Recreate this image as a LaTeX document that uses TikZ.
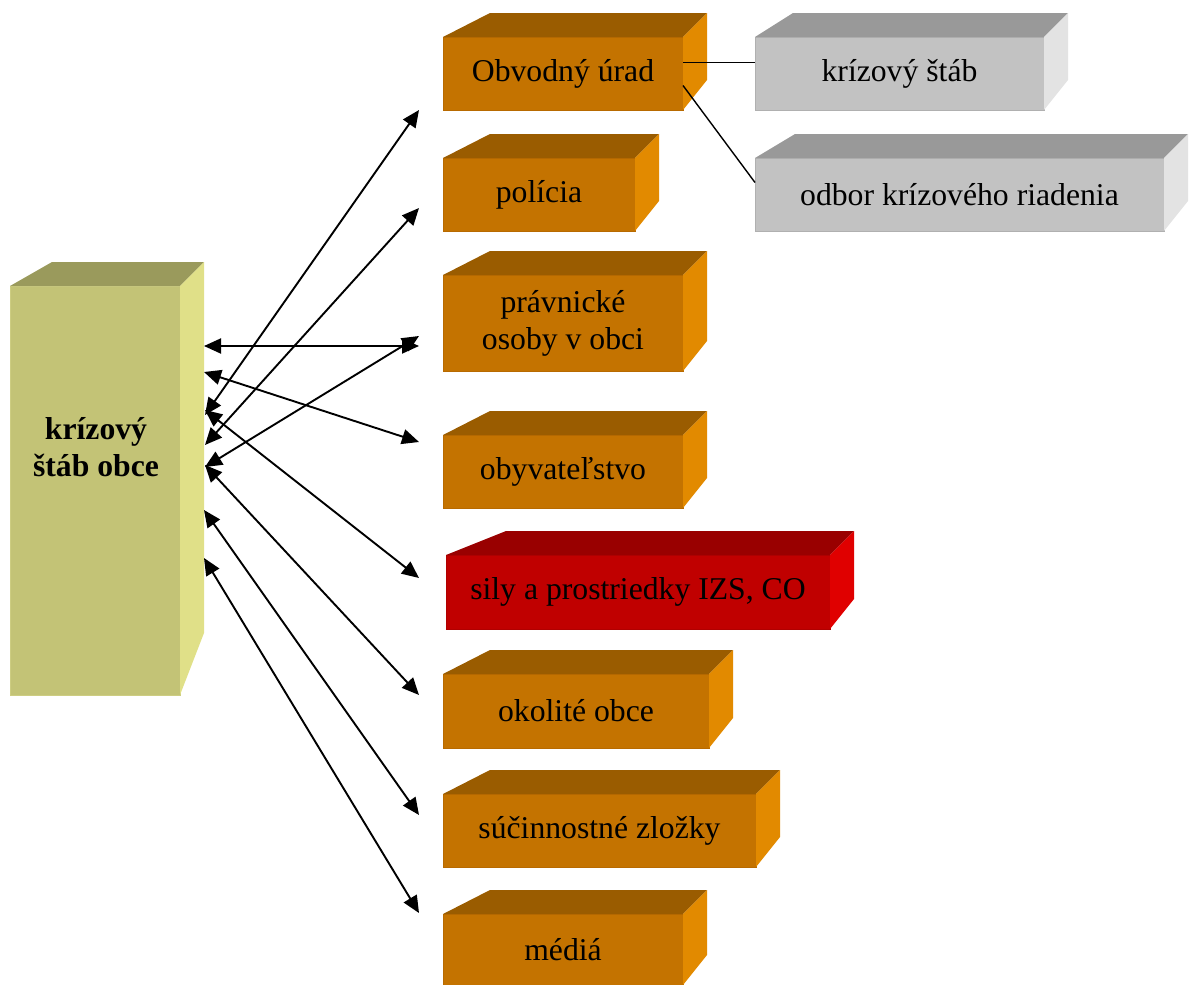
\documentclass[tikz,border=0pt]{standalone}
\usepackage{fontspec}
\setmainfont{Liberation Serif}
\usetikzlibrary{calc, arrows.meta}
\usepackage{xcolor}
\definecolor{orfront}{RGB}{196,115,0}
\definecolor{ortop}{RGB}{154,92,0}
\definecolor{orside}{RGB}{226,138,0}
\definecolor{oredge}{RGB}{184,106,0}
\definecolor{redfront}{RGB}{192,0,0}
\definecolor{redtop}{RGB}{153,0,0}
\definecolor{redside}{RGB}{224,0,0}
\definecolor{rededge}{RGB}{176,0,0}
\definecolor{gryfront}{RGB}{194,194,194}
\definecolor{grytop}{RGB}{153,153,153}
\definecolor{gryside}{RGB}{227,227,227}
\definecolor{gryedge}{RGB}{176,176,176}
\definecolor{khfront}{RGB}{195,195,118}
\definecolor{khtop}{RGB}{154,154,92}
\definecolor{khside}{RGB}{224,224,136}
\definecolor{khedge}{RGB}{205,205,130}
\tikzset{
  slabface/.style={rectangle, inner sep=0pt, outer sep=0pt, line width=1pt,
    font=\fontsize{31.7}{37}\selectfont, align=center},
  link/.style={>={Triangle[length=17pt,width=15pt]}, <->, line width=1.9pt},
  tie/.style={line width=1.4pt}
}
% [back left]{name}{at}{width}{height}{colour}{text}
\newcommand{\slab}[7][47]{%
  \node[slabface, fill=#6front, draw=#6edge, minimum width=#4, minimum height=#5] (#2) at (#3) {#7};
  \fill[#6top] (#2.north west) -- ++(#1,-24) -- ($(#2.north east)+(24,-24)$) -- (#2.north east) -- cycle;
  \fill[#6side] (#2.north east) -- ++(24,-24) -- ($(#2.south east)+(24,-30)$) -- (#2.south east) -- cycle;
}
\begin{document}
\begin{tikzpicture}[x=1pt, y=-1pt]
		\useasboundingbox (0,0) rectangle (1192,985);
		% left block
		\node[slabface, fill=khfront, draw=khedge, minimum width=170, minimum height=409] (staff) at (95,490.5) {};
		\fill[khtop] (staff.north west) -- ++(42,-24) -- ($(staff.north east)+(24,-24)$) -- (staff.north east) -- cycle;
		\fill[khside] (staff.north east) -- ++(24,-24) -- ($(staff.south east)+(24,-62)$) -- (staff.south east) -- cycle;
		\node[slabface, font=\fontsize{31.7}{37}\selectfont\bfseries] (stafftext) at (96,447) {krízový\\štáb obce};
		% right column
		\slab{obvod}{563,73.5}{240}{73}{or}{Obvodný úrad}
		\slab{policia}{539,194.5}{192}{73}{or}{polícia}
		\slab{pravnicke}{563,323}{240}{96}{or}{právnické\\osoby v obci}
		\slab{obyv}{563,471.5}{240}{73}{or}{obyvateľstvo}
		\slab[60]{sily}{638,592}{384}{74}{red}{sily a prostriedky IZS, CO}
		\slab{okolite}{576,711}{266}{74}{or}{okolité obce}
		\slab{sucin}{599.5,830.5}{313}{73}{or}{súčinnostné zložky}
		\slab{media}{563,949.5}{240}{71}{or}{médiá}
		% grey blocks
		\slab[38]{kstab}{899.5,73.5}{289}{73}{gry}{krízový štáb}
		\slab[40]{odbor}{959.5,194.5}{409}{73}{gry}{odbor krízového riadenia}
		\draw[tie] ($(obvod.east)+(0,-11)$) -- ($(kstab.west)+(0,-11)$);
		\draw[tie] ($(obvod.east)+(0,12)$) -- ($(odbor.west)+(0,-12)$);
		% arrow ends
		\coordinate (l1) at (205,415); \coordinate (r1) at (419,110);
		\coordinate (l2) at (205,445); \coordinate (r2) at (419,208);
		\coordinate (l3) at (204,346); \coordinate (r3) at (419,346);
		\coordinate (l4) at (205,467); \coordinate (r4) at (419,336);
		\coordinate (l5) at (204,372); \coordinate (r5) at (419,442);
		\coordinate (l6) at (205,410); \coordinate (r6) at (419,578);
		\coordinate (l7) at (205,465); \coordinate (r7) at (419,695);
		\coordinate (l8) at (204,510); \coordinate (r8) at (419,815);
		\coordinate (l9) at (204,558); \coordinate (r9) at (419,913);
		\foreach \i in {1,...,9}
			\draw[link] (l\i) -- (r\i);
	\end{tikzpicture}
\end{document}
